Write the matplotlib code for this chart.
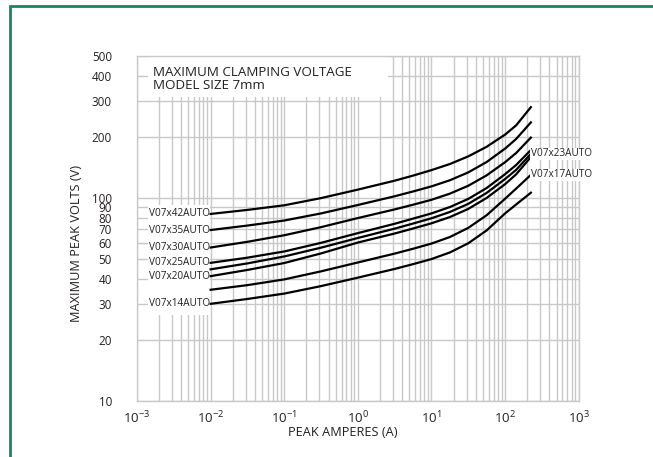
import numpy as np
import matplotlib
matplotlib.use("Agg")
import matplotlib.pyplot as plt
from matplotlib.patches import Rectangle
from matplotlib.ticker import FixedLocator, NullFormatter


plt.rcParams['font.family'] = ['Open Sans', 'DejaVu Sans']

amps = [0.01, 0.0316, 0.1, 0.316, 1, 3.16, 5.62, 10, 17.8, 31.6, 56.2, 100, 141, 224]

# max clamping voltage per model (V)
models = ['V07x42AUTO', 'V07x35AUTO', 'V07x30AUTO', 'V07x25AUTO',
          'V07x23AUTO', 'V07x20AUTO', 'V07x17AUTO', 'V07x14AUTO']
volts = [
    [83.4, 87.3, 92.0, 99.8, 109.9, 121.6, 128.8, 137.1, 146.9, 160.2, 178.6, 205.1, 227.5, 279.9],
    [69.5, 73.1, 77.4, 83.9, 92.3, 101.9, 107.6, 114.0, 122.2, 133.6, 150.3, 175.0, 195.0, 235.5],
    [57.0, 60.8, 65.5, 71.8, 79.6, 87.8, 92.6, 97.9, 105.0, 114.8, 129.2, 150.0, 166.3, 198.2],
    [47.9, 50.8, 54.5, 60.1, 67.1, 74.6, 79.1, 83.9, 90.2, 98.9, 111.9, 130.9, 145.2, 172.2],
    [44.5, 47.6, 51.5, 56.9, 63.5, 70.6, 74.8, 79.4, 85.3, 93.5, 105.9, 123.9, 137.4, 164.8],
    [41.2, 44.2, 47.8, 53.3, 60.3, 66.8, 70.7, 75.0, 80.5, 88.3, 100.0, 116.9, 130.6, 158.9],
    [35.3, 37.2, 39.7, 43.5, 48.1, 53.2, 56.2, 59.6, 64.2, 71.2, 82.2, 99.1, 111.1, 129.9],
    [30.1, 31.8, 33.8, 36.8, 40.5, 44.7, 47.2, 50.0, 53.9, 59.8, 69.2, 83.9, 92.8, 106.1],
]
left_labels = ['V07x42AUTO', 'V07x35AUTO', 'V07x30AUTO', 'V07x25AUTO',
               'V07x20AUTO', 'V07x14AUTO']
right_labels = ['V07x23AUTO', 'V07x17AUTO']

y_ticks = [10, 20, 30, 40, 50, 60, 70, 80, 90, 100, 200, 300, 400, 500]
x_ticks = [1e-3, 1e-2, 1e-1, 1e0, 1e1, 1e2, 1e3]
x_ticklabels = [r'$\mathdefault{10^{-3}}$', r'$\mathdefault{10^{-2}}$',
                r'$\mathdefault{10^{-1}}$', r'$\mathdefault{10^{0}}$',
                r'$\mathdefault{10^{1}}$', r'$\mathdefault{10^{2}}$',
                r'$\mathdefault{10^{3}}$']

grid_c = '#c8c8c8'
text_c = '#231f20'

fig = plt.figure(figsize=(6.53, 4.57), dpi=100)
ax = fig.add_axes([137/653, 1 - 401/457, 441.7/653, 345/457])
ax.set_xscale('log')
ax.set_yscale('log')
ax.set_xlim(1e-3, 1e3)
ax.set_ylim(10, 500)

ax.xaxis.set_major_locator(FixedLocator(x_ticks))
ax.set_xticklabels(x_ticklabels)
ax.xaxis.set_minor_locator(FixedLocator(
    [m * 10.0**e for e in range(-3, 3) for m in range(2, 10)]))
ax.xaxis.set_minor_formatter(NullFormatter())
ax.yaxis.set_major_locator(FixedLocator(y_ticks))
ax.set_yticklabels([str(v) for v in y_ticks])
ax.yaxis.set_minor_locator(FixedLocator([]))

ax.tick_params(axis='both', which='both', length=0, colors=text_c)
ax.tick_params(axis='y', pad=18, labelsize=8.4)
ax.tick_params(axis='x', pad=6, labelsize=9.5)

ax.set_axisbelow(True)
ax.grid(True, which='both', color=grid_c, linewidth=1.0)
for s in ax.spines.values():
    s.set_color(grid_c)
    s.set_linewidth(1.0)

# white panels behind the texts
ax.add_patch(Rectangle((0.025, 0.881), 0.543, 0.117, transform=ax.transAxes,
                       facecolor='white', edgecolor='none', zorder=1))
ax.add_patch(Rectangle((0.025, 0.249), 0.140, 0.319, transform=ax.transAxes,
                       facecolor='white', edgecolor='none', zorder=1))

for name, v in zip(models, volts):
    ax.plot(amps, v, color='black', linewidth=1.6, zorder=3)
    if name in left_labels:
        ax.annotate(name, (amps[0], v[0]), xytext=(-0.5, 0), textcoords='offset points',
                    ha='right', va='center', fontsize=7.2, color=text_c, zorder=4)
    if name in right_labels:
        ax.annotate(name, (amps[-1], v[-1]), xytext=(0, 0), textcoords='offset points',
                    ha='left', va='center', fontsize=7.2, color=text_c, zorder=4,
                    bbox=dict(facecolor='white', edgecolor='none', pad=0.5))

ax.text(0.037, 0.934, 'MAXIMUM CLAMPING VOLTAGE\nMODEL SIZE 7mm',
        transform=ax.transAxes, ha='left', va='center', fontsize=9.6,
        color=text_c, linespacing=1.05, zorder=4)

fig.text(77/653, 1 - 243/457, 'MAXIMUM PEAK VOLTS (V)', rotation=90,
         ha='center', va='center', fontsize=9.2, color=text_c)
fig.text(343/653, 1 - 433/457, 'PEAK AMPERES (A)',
         ha='center', va='center', fontsize=9.2, color=text_c)

# green frame round the figure
fig.patches.append(Rectangle((10/653, -0.05), 1.1, 1.05 - 6/457,
                             transform=fig.transFigure, fill=False,
                             edgecolor='#16865a', linewidth=2))

fig.savefig('out.png', dpi=100)
